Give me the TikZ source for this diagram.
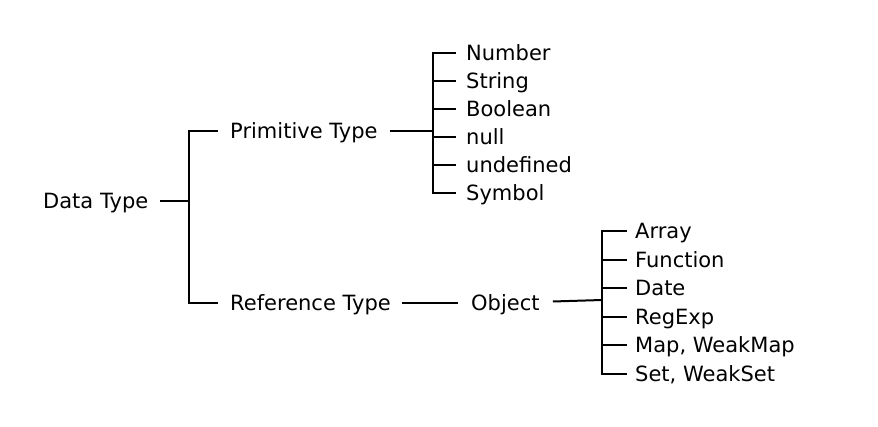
\documentclass[tikz,border=0pt]{standalone}
\usepackage{fontspec}
\setmainfont{DejaVu Sans}
\begin{document}
\begin{tikzpicture}[x=1pt,y=-1pt,
  lbl/.style={anchor=west,inner sep=0pt,text height=20.2pt,text depth=4.85pt,font=\fontsize{21}{25}\selectfont},
  conn/.style={line width=2pt,line join=miter,black}]
\useasboundingbox[fill=white] (0,0) rectangle (878,427);
% nodes
\node[lbl] (dt) at (43,201) {Data Type};
\node[lbl] (prim) at (230,131) {Primitive Type};
\node[lbl] (ref) at (230,303) {Reference Type};
\node[lbl] (obj) at (471,303) {Object};
\node[lbl] (l1) at (466,53) {Number};
\node[lbl] (l2) at (466,81) {String};
\node[lbl] (l3) at (466,109) {Boolean};
\node[lbl] (l4) at (466,137) {null};
\node[lbl] (l5) at (466,165) {undefined};
\node[lbl] (l6) at (466,193) {Symbol};
\node[lbl] (r1) at (635,231) {Array};
\node[lbl] (r2) at (635,260) {Function};
\node[lbl] (r3) at (635,288) {Date};
\node[lbl] (r4) at (635,317) {RegExp};
\node[lbl] (r5) at (635,345) {Map, WeakMap};
\node[lbl] (r6) at (635,374) {Set, WeakSet};
% junctions
\coordinate (j1) at (189,201);
\coordinate (j2) at (433,131);
\coordinate (j3) at (602,300);
% connectors
\draw[conn] ([xshift=12pt]dt.east) -- (j1);
\draw[conn] ([xshift=-12pt]prim.west) -| (j1) |- ([xshift=-12pt]ref.west);
\draw[conn] ([xshift=12pt]prim.east) -- (j2);
\draw[conn] ([xshift=-10pt]l1.west) -| (j2) |- ([xshift=-10pt]l6.west);
\foreach \n in {l2,l3,l4,l5}
  \draw[conn] (\n.west -| j2) -- ([xshift=-10pt]\n.west);
\draw[conn] ([xshift=11pt]ref.east) -- ([xshift=-13pt]obj.west);
\draw[conn] ([xshift=13pt,yshift=1.5pt]obj.east) -- (j3);
\draw[conn] ([xshift=-8pt]r1.west) -| (j3) |- ([xshift=-8pt]r6.west);
\foreach \n in {r2,r3,r4,r5}
  \draw[conn] (\n.west -| j3) -- ([xshift=-8pt]\n.west);
\end{tikzpicture}
\end{document}
